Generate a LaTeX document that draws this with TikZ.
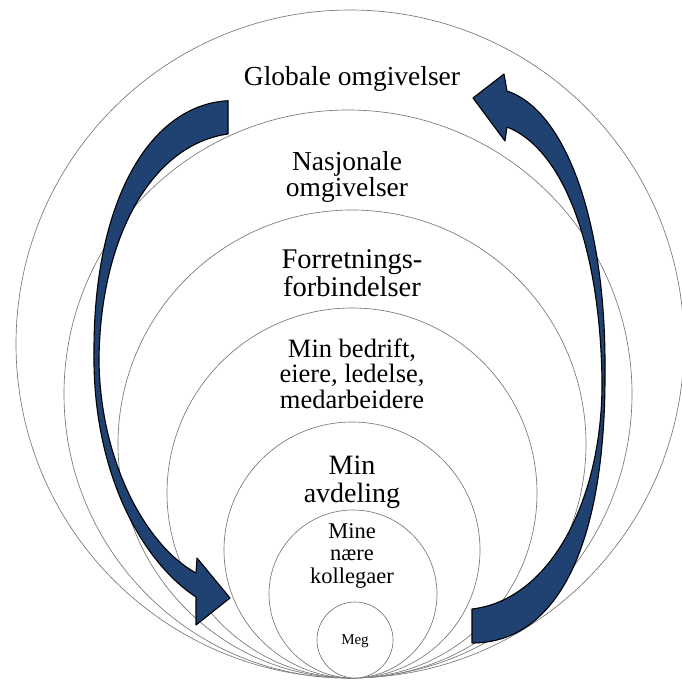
\documentclass[tikz,border=0pt]{standalone}
\usepackage{fontspec}
\setmainfont{Liberation Serif}
\definecolor{arrowblue}{HTML}{1F4273}
\definecolor{ringgray}{HTML}{777777}
\begin{document}
\begin{tikzpicture}[x=1pt,y=-1pt,
  ring/.style={draw=ringgray, line width=0.65pt, fill=white},
  blockarrow/.style={fill=arrowblue, draw=black, line width=1.1pt, line join=round},
  lbl/.style={align=center, inner sep=0pt, anchor=base},
  big/.style={font=\fontsize{27.5}{26}\selectfont}]
\useasboundingbox (0,0) rectangle (682,689);
\clip (0,0) rectangle (682,689);

% nested rings, all touching at the bottom
\draw[ring] (350,344) circle[radius=334];
\draw[ring] (348,394) circle[radius=284];
\draw[ring] (352,444) circle[radius=234];
\draw[ring] (352,493) circle[radius=185];
\draw[ring] (352,550) circle[radius=128];
\draw[ring] (353,594) circle[radius=84];
\draw[ring] (355,640) circle[radius=38];

% labels
\node[lbl, big] (glob) at (352,85) {Globale omgivelser};
\node[lbl, big] (nasj) at (347,196) {Nasjonale\\omgivelser};
\node[lbl, font=\fontsize{28.5}{28}\selectfont] (forr) at (352,296) {Forretnings-\\forbindelser};
\node[lbl, font=\fontsize{26.5}{25.5}\selectfont] (bedr) at (352,408) {Min bedrift,\\eiere, ledelse,\\medarbeidere};
\node[lbl, font=\fontsize{28}{28}\selectfont] (avd) at (352,502) {Min\\avdeling};
\node[lbl, font=\fontsize{22.5}{22.5}\selectfont] (koll) at (352,583) {Mine\\nære\\kollegaer};
\node[lbl, font=\fontsize{15}{15}\selectfont] (meg) at (355,644) {Meg};

% left curved block arrow, pointing inwards
\filldraw[blockarrow]
  (228,100.7) .. controls (150,105) and (94,200) .. (94,350)
  .. controls (92,470) and (140,560) .. (196,597)
  -- (196,625) -- (230,598) -- (197,558) -- (196,573)
  .. controls (145,545) and (100,460) .. (99,360)
  .. controls (100,240) and (150,145) .. (228,134)
  -- cycle;

% right curved block arrow, pointing outwards
\filldraw[blockarrow]
  (472,643) .. controls (560,643) and (606,540) .. (605,370)
  .. controls (606,220) and (565,110) .. (507,91)
  -- (504,74) -- (473,98) -- (505,141) -- (507,127)
  .. controls (565,150) and (600,250) .. (602,380)
  .. controls (603,500) and (550,600) .. (472,609)
  -- cycle;
\end{tikzpicture}
\end{document}
